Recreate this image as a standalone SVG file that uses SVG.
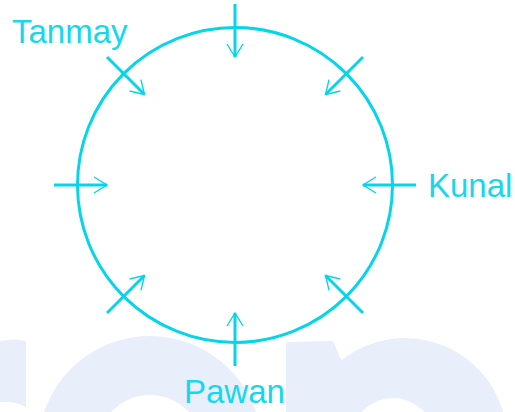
<svg xmlns="http://www.w3.org/2000/svg" width="515" height="412" viewBox="0 0 515 412">
  <style>
    .wm { fill: #e8effb; }
    .hole { fill: #ffffff; }
    .ring { fill: none; stroke: #04d5ea; stroke-width: 3; }
    .shaft { fill: none; stroke: #04d5ea; stroke-width: 3; marker-end: url(#head); }
    .lbl { font-family: "Liberation Sans", Arial, sans-serif; font-size: 33px; fill: #14d8ee; }
  </style>
  <defs>
    <marker id="head" markerUnits="userSpaceOnUse" markerWidth="30" markerHeight="30" orient="auto" refX="0" refY="0" viewBox="-20 -15 30 30" overflow="visible">
      <path d="M-13,-8 L0,0 L-13,8" fill="none" stroke="#04d5ea" stroke-width="1.4"/>
    </marker>
  </defs>

  <g id="watermark">
    <path class="wm" d="M0,341 Q13,338 26,341 L26,407 Q13,401 0,402 Z"/>
    <circle class="wm" cx="150" cy="448" r="112"/>
    <circle class="hole" cx="150" cy="448" r="53"/>
    <path class="wm" d="M286,342 L333,341 L342,362 L342,420 L286,420 Z"/>
    <circle class="wm" cx="405" cy="440" r="102"/>
    <circle class="hole" cx="393" cy="440" r="42"/>
  </g>

  <g id="circle">
    <circle class="ring" cx="235" cy="185" r="157.5"/>
  </g>

  <g id="connectors">
    <line class="shaft" x1="235" y1="4" x2="235" y2="57"/>
    <line class="shaft" x1="235" y1="4" x2="235" y2="57" transform="rotate(45 235 185)"/>
    <line class="shaft" x1="235" y1="4" x2="235" y2="57" transform="rotate(90 235 185)"/>
    <line class="shaft" x1="235" y1="4" x2="235" y2="57" transform="rotate(135 235 185)"/>
    <line class="shaft" x1="235" y1="4" x2="235" y2="57" transform="rotate(180 235 185)"/>
    <line class="shaft" x1="235" y1="4" x2="235" y2="57" transform="rotate(225 235 185)"/>
    <line class="shaft" x1="235" y1="4" x2="235" y2="57" transform="rotate(270 235 185)"/>
    <line class="shaft" x1="235" y1="4" x2="235" y2="57" transform="rotate(315 235 185)"/>
  </g>

  <g id="tanmay"><text class="lbl" x="12" y="43">Tanmay</text></g>
  <g id="kunal"><text class="lbl" x="428" y="197">Kunal</text></g>
  <g id="pawan"><text class="lbl" x="184" y="403">Pawan</text></g>
</svg>
